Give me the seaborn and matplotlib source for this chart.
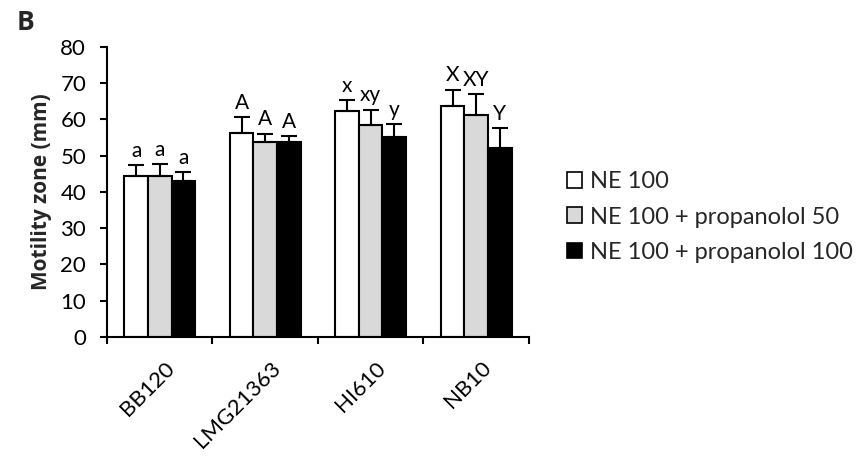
import matplotlib
matplotlib.use("Agg")
import matplotlib.pyplot as plt
import matplotlib.transforms as mtransforms
import seaborn as sns
import pandas as pd
import numpy as np
from matplotlib.patches import Patch, Rectangle
from matplotlib.ticker import FixedLocator

strains = ["BB120", "LMG21363", "HI610", "NB10"]
treatments = ["NE 100", "NE 100 + propanolol 50", "NE 100 + propanolol 100"]
ne100 = [44.4, 56.2, 62.4, 63.6]
ne100_p50 = [44.4, 53.6, 58.4, 61.2]
ne100_p100 = [43.0, 53.6, 55.0, 52.2]
err_ne100 = [2.9, 4.4, 2.8, 4.6]
err_p50 = [3.3, 2.4, 4.2, 5.8]
err_p100 = [2.5, 1.8, 3.7, 5.4]
letters_ne100 = ["a", "A", "x", "X"]
letters_p50 = ["a", "A", "xy", "XY"]
letters_p100 = ["a", "A", "y", "Y"]
colors = ["#ffffff", "#d9d9d9", "#000000"]

sns.set_theme(style="white")
plt.rcParams['font.family'] = ['Lato', 'DejaVu Sans']

values = [ne100, ne100_p50, ne100_p100]
errs = [err_ne100, err_p50, err_p100]
letters = [letters_ne100, letters_p50, letters_p100]
rows = []
for t, vals in zip(treatments, values):
    for s, v in zip(strains, vals):
        rows.append({"strain": s, "treatment": t, "value": v})
df = pd.DataFrame(rows)

fig = plt.figure(figsize=(8.67, 4.59), dpi=100)
ax = fig.add_axes([0.1234, 0.2658, 0.4867, 0.6325])

sns.barplot(data=df, x="strain", y="value", hue="treatment", order=strains,
            hue_order=treatments, palette=colors, width=0.67, errorbar=None,
            edgecolor="black", linewidth=1.5, ax=ax, legend=False, saturation=1)

bars = [p for p in ax.patches if isinstance(p, Rectangle) and p.get_height() > 0]
bars = sorted(bars, key=lambda p: p.get_x())
for i, bar in enumerate(bars):
    si, ti = divmod(i, len(treatments))
    xc = bar.get_x() + bar.get_width() / 2
    h = bar.get_height()
    e = errs[ti][si]
    ax.errorbar([xc], [h], yerr=[[0], [e]], fmt="none", ecolor="black",
                elinewidth=1.5, capsize=6, capthick=1.5, zorder=3)
    ax.text(xc, h + e + 1.2, letters[ti][si], ha="center", va="bottom",
            fontsize=15, color="black")

ax.set_ylim(0, 80)
ax.set_xlim(-0.5, 3.5)
ax.set_yticks(np.arange(0, 81, 10))
ax.set_xlabel("")
ax.set_ylabel("Motility zone (mm)", fontsize=15, fontweight="bold", labelpad=6,
              family=["Open Sans", "DejaVu Sans"])
for sp in ["top", "right"]:
    ax.spines[sp].set_visible(False)
for sp in ["left", "bottom"]:
    ax.spines[sp].set_color("black")
    ax.spines[sp].set_linewidth(1.5)
ax.tick_params(axis="y", which="major", length=5, width=1.5, color="black",
               labelsize=16, left=True, pad=10, labelcolor="black")
ax.set_xticks(range(len(strains)))
ax.set_xticklabels(strains, rotation=45, ha="right", rotation_mode="anchor",
                   fontsize=16, color="black")
ax.tick_params(axis="x", which="major", length=0, pad=15)
offset = mtransforms.ScaledTranslation(5 / 100, 0, fig.dpi_scale_trans)
for lab in ax.get_xticklabels():
    lab.set_transform(lab.get_transform() + offset)
ax.xaxis.set_minor_locator(FixedLocator(np.arange(-0.5, 4.0, 1.0)))
ax.tick_params(axis="x", which="minor", length=5, width=1.5, color="black",
               bottom=True)

handles = [Patch(facecolor=c, edgecolor="black", linewidth=1.2) for c in colors]
fig.legend(handles, treatments, loc="center left", bbox_to_anchor=(0.629, 0.527),
           frameon=False, fontsize=17, handlelength=0.65, handleheight=0.65,
           handletextpad=0.35, labelspacing=0.6)

fig.text(0.019, 0.935, "B", fontsize=19, fontweight="bold", va="baseline", ha="left",
         family=["Open Sans", "DejaVu Sans"])

fig.savefig("out.png", dpi=100, facecolor="white")
